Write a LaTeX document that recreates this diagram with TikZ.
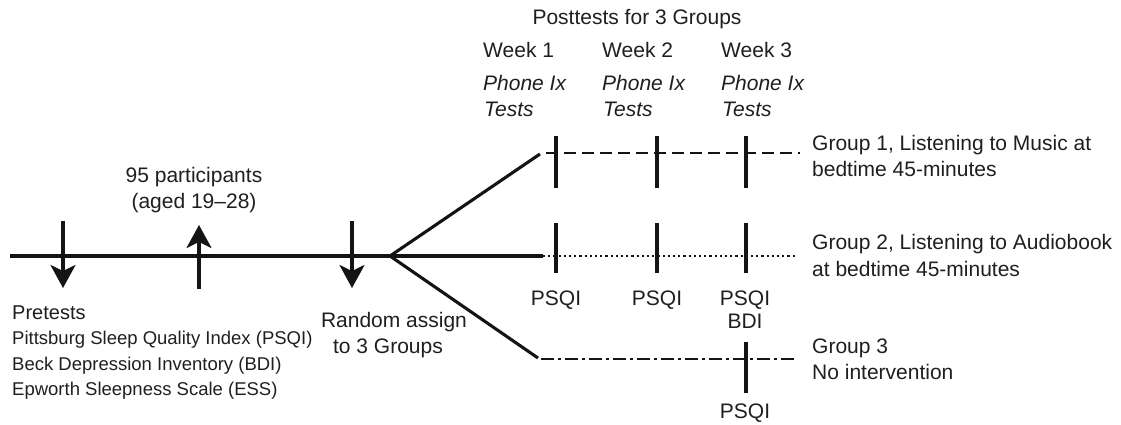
\documentclass[tikz,border=0pt]{standalone}
\usepackage{fontspec}
\setmainfont{Liberation Sans}
\usetikzlibrary{arrows.meta}
\tikzset{
  txt/.style={inner sep=0pt, font=\fontsize{21}{26}\selectfont, text=black!88},
  smalltxt/.style={inner sep=0pt, font=\fontsize{18.5}{24}\selectfont, text=black!88},
  itxt/.style={txt, font=\fontsize{21}{26}\selectfont\itshape},
  thick line/.style={line width=3.1pt, black!92},
  tickmark/.style={line width=3.1pt, black!92},
  arr/.style={line width=3.1pt, black!92, -{Stealth[length=23pt,width=25pt,inset=6pt]}},
  g1line/.style={line width=2.6pt, black!92, dash pattern=on 12pt off 6pt},
  g2line/.style={line width=2.6pt, black!92, dash pattern=on 2.2pt off 3pt},
  g3line/.style={line width=2.6pt, black!92, dash pattern=on 13pt off 4pt on 3pt off 4pt},
}
\begin{document}
\begin{tikzpicture}[x=1pt,y=-1pt]
\useasboundingbox (0,0) rectangle (1121,424);
% coordinates
\coordinate (start) at (10,256);
\coordinate (junc) at (390,256);
\coordinate (g1s) at (540,154);
\coordinate (g1d) at (546,153);
\coordinate (g1e) at (800,153);
\coordinate (g2s) at (543,256);
\coordinate (g2e) at (797,256);
\coordinate (g3s) at (538,358);
\coordinate (g3d) at (541,359);
\coordinate (g3e) at (797,359);
% main line and branches
\draw[thick line] (start) -- (junc) -- (g2s);
\draw[thick line] (junc) -- (g1s);
\draw[thick line] (junc) -- (g3s);
\draw[g1line] (g1d) -- (g1e);
\draw[g2line] (g2s) -- (g2e);
\draw[g3line] (g3d) -- (g3e);
% arrows
\coordinate (a1t) at (63,221); \coordinate (a1b) at (63,288);
\coordinate (a2t) at (199,225); \coordinate (a2b) at (199,289);
\coordinate (a3t) at (352,221); \coordinate (a3b) at (352,288);
\draw[arr] (a1t) -- (a1b);
\draw[arr] (a2b) -- (a2t);
\draw[arr] (a3t) -- (a3b);
% ticks
\foreach \x [count=\i] in {556,657,746}{
  \coordinate (t1a\i) at (\x,136); \coordinate (t1b\i) at (\x,188);
  \draw[tickmark] (t1a\i) -- (t1b\i);
  \coordinate (t2a\i) at (\x,223); \coordinate (t2b\i) at (\x,273);
  \draw[tickmark] (t2a\i) -- (t2b\i);
}
\coordinate (t3a) at (746,342); \coordinate (t3b) at (746,393);
\draw[tickmark] (t3a) -- (t3b);
% texts top
\node[txt, anchor=base] (post) at (637,24) {Posttests for 3 Groups};
\node[txt, anchor=base west] (w1) at (483,57) {Week 1};
\node[txt, anchor=base west] (w2) at (602,57) {Week 2};
\node[txt, anchor=base west] (w3) at (721,57) {Week 3};
\node[itxt, anchor=base west] (p1) at (483,90) {Phone Ix};
\node[itxt, anchor=base west] (p2) at (602,90) {Phone Ix};
\node[itxt, anchor=base west] (p3) at (721,90) {Phone Ix};
\node[itxt, anchor=base west] (s1) at (484,116) {Tests};
\node[itxt, anchor=base west] (s2) at (603,116) {Tests};
\node[itxt, anchor=base west] (s3) at (722,116) {Tests};
% group labels
\node[txt, anchor=base west] (g1a) at (812,150) {Group 1, Listening to Music at};
\node[txt, anchor=base west] (g1b) at (812,176) {bedtime 45-minutes};
\node[txt, anchor=base west] (g2a) at (812,249) {Group 2, Listening to Audiobook};
\node[txt, anchor=base west] (g2b) at (812,276) {at bedtime 45-minutes};
\node[txt, anchor=base west] (g3a) at (812,353) {Group 3};
\node[txt, anchor=base west] (g3b) at (812,379) {No intervention};
% participants
\node[txt, anchor=base] (part1) at (194,182) {95 participants};
\node[txt, anchor=base] (part2) at (194,208) {(aged 19--28)};
% pretests
\node[txt, anchor=base west, font=\fontsize{20}{24}\selectfont] (pre) at (12,319) {Pretests};
\node[smalltxt, anchor=base west] (pre1) at (12,344) {Pittsburg Sleep Quality Index (PSQI)};
\node[smalltxt, anchor=base west] (pre2) at (12,370) {Beck Depression Inventory (BDI)};
\node[smalltxt, anchor=base west] (pre3) at (12,395) {Epworth Sleepness Scale (ESS)};
% random assign
\node[txt, anchor=base] (ra1) at (394,327) {Random assign};
\node[txt, anchor=base] (ra2) at (388,353) {to 3 Groups};
% PSQI labels
\node[txt, anchor=base] (q1) at (556,305) {PSQI};
\node[txt, anchor=base] (q2) at (657,305) {PSQI};
\node[txt, anchor=base] (q3) at (745,305) {PSQI};
\node[txt, anchor=base] (bdi) at (745,328) {BDI};
\node[txt, anchor=base] (q4) at (745,418) {PSQI};
\end{tikzpicture}
\end{document}
